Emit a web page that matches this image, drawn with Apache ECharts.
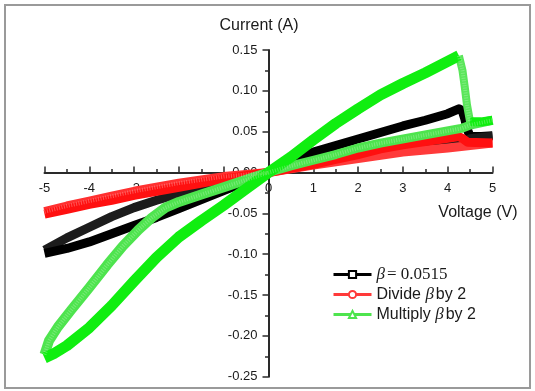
<!DOCTYPE html>
<html>
<head>
<meta charset="utf-8">
<script src="https://cdn.jsdelivr.net/npm/echarts@6/dist/echarts.min.js"></script>
<style>
  html, body { margin: 0; padding: 0; background: #fff; }
  #chart { width: 535px; height: 391px; }
</style>
</head>
<body>
<div id="chart"></div>
<script>
// I–V hysteresis loops, [voltage (V), current (A)] pairs per sweep branch.

// beta = 0.0515
const blackPosForward = [[0,0],[0.5,0.014],[1,0.025],[1.5,0.033],[2,0.041],[2.5,0.049],[3,0.057],[3.5,0.064],[4,0.072],[4.25,0.078],[4.32,0.076],[4.38,0.066],[4.43,0.054],[4.5,0.044],[4.75,0.044],[5,0.045]];
const blackPosReturn  = [[5,0.045],[4.5,0.042],[4.35,0.037],[4,0.035],[3,0.027],[2,0.019],[1,0.010],[0,0]];
const blackNegForward = [[0,0],[-0.5,-0.011],[-1,-0.022],[-1.5,-0.033],[-2,-0.044],[-2.5,-0.055],[-3,-0.065],[-3.5,-0.075],[-4,-0.085],[-4.5,-0.093],[-5,-0.099]];
const blackNegReturn  = [[-5,-0.095],[-4.5,-0.080],[-4,-0.067],[-3.5,-0.054],[-3,-0.043],[-2.5,-0.034],[-2,-0.026],[-1.5,-0.019],[-1,-0.012],[-0.5,-0.006],[0,0]];

// beta / 2
const redPosForward = [[0,0],[0.5,0.005],[1,0.010],[1.5,0.016],[2,0.022],[2.5,0.029],[3,0.034],[3.5,0.038],[4,0.042],[4.25,0.044],[4.35,0.041],[4.45,0.037],[5,0.036]];
const redPosReturn  = [[5,0.036],[4.5,0.033],[4,0.030],[3,0.025],[2.5,0.021],[2,0.017],[1,0.009],[0,0]];
const redNegForward = [[0,0],[-1,-0.008],[-2,-0.018],[-2.5,-0.023],[-3,-0.028],[-3.5,-0.034],[-4,-0.039],[-4.5,-0.045],[-5,-0.051]];
const redNegReturn  = [[-5,-0.048],[-4.5,-0.041],[-4,-0.035],[-3.5,-0.029],[-3,-0.023],[-2.5,-0.018],[-2,-0.013],[-1,-0.005],[0,0]];

// beta * 2
const greenPosForward = [[0,0],[0.5,0.019],[1,0.040],[1.5,0.060],[2,0.078],[2.5,0.095],[3,0.109],[3.5,0.122],[4,0.136],[4.25,0.143]];
const greenPosSwitch  = [[4.25,0.143],[4.33,0.125],[4.38,0.105],[4.43,0.083],[4.5,0.062]];
const greenPosHigh    = [[4.5,0.062],[4.75,0.062],[5,0.064]];
const greenPosReturn  = [[5,0.064],[4.5,0.058],[4.3,0.054],[3.5,0.046],[2.5,0.036],[2,0.030],[1.5,0.022],[1,0.015],[0.5,0.008],[0,0]];
const greenNegForward = [[0,0],[-0.5,-0.020],[-1,-0.040],[-1.5,-0.059],[-2,-0.079],[-2.5,-0.104],[-3,-0.133],[-3.5,-0.163],[-4,-0.190],[-4.5,-0.212],[-4.8,-0.222],[-5,-0.227]];
const greenNegReturn  = [[-5,-0.223],[-4.9,-0.206],[-4.7,-0.189],[-4.4,-0.168],[-4,-0.141],[-3.6,-0.113],[-3.25,-0.090],[-2.9,-0.070],[-2.6,-0.055],[-2.3,-0.043],[-2,-0.036],[-1.5,-0.027],[-1,-0.018],[-0.5,-0.009],[0,0]];

// Axis ticks
const xTicks = { min: -5, max: 5, step: 1 };
const yTicks = { min: -0.25, max: 0.15, step: 0.05 };

const NAME_B = 'β = 0.0515';
const NAME_D = 'Divide β by 2';
const NAME_M = 'Multiply β by 2';

// Plot box in pixels; the two axes cross at the origin inside it.
const PLOT = { left: 44.5, right: 492.5, top: 50, bottom: 376.7 };
const W = 535, H = 391;
const xZeroPx = PLOT.left + (0 - xTicks.min) / (xTicks.max - xTicks.min) * (PLOT.right - PLOT.left);
const yZeroPx = PLOT.top + (yTicks.max - 0) / (yTicks.max - yTicks.min) * (PLOT.bottom - PLOT.top);

// One sweep branch drawn as a thick band.
function band(name, data, color, width, symbol) {
  return {
    type: 'line',
    name: name,
    data: data,
    symbol: symbol || 'none',
    symbolSize: 7,
    showSymbol: false,
    itemStyle: { color: color },
    lineStyle: { color: color, width: width, cap: 'butt', join: 'round' },
    emphasis: { disabled: true },
    silent: true,
    z: 2
  };
}

// Sparse-sampled branches show their individual markers as a faint speckle.
function speckle(name, data, color) {
  return {
    type: 'line',
    name: name,
    data: data,
    symbol: 'none',
    showSymbol: false,
    lineStyle: { color: color, width: 4, type: [1, 1.5], cap: 'butt', opacity: 0.35 },
    emphasis: { disabled: true },
    silent: true,
    z: 3
  };
}

const FONT = 'Liberation Sans, Arial, sans-serif';
const INK = '#1a1a1a';
const AXIS = '#2a2a2a';

const chart = echarts.init(document.getElementById('chart'), null, { renderer: 'canvas' });

chart.setOption({
  animation: false,
  backgroundColor: '#ffffff',
  grid: { left: PLOT.left, right: W - PLOT.right, top: PLOT.top, bottom: H - PLOT.bottom, containLabel: false },
  xAxis: {
    type: 'value',
    position: 'bottom',
    offset: -(PLOT.bottom - yZeroPx),
    min: xTicks.min, max: xTicks.max, interval: xTicks.step,
    name: 'Voltage (V)',
    nameLocation: 'end',
    nameGap: 25,
    nameTextStyle: {
      fontFamily: FONT, fontSize: 16, color: INK,
      align: 'right', verticalAlign: 'top', padding: [32, 0, 0, 0]
    },
    axisLine: { onZero: false, lineStyle: { color: AXIS, width: 2 } },
    axisTick: { inside: true, length: 6, lineStyle: { color: AXIS, width: 1.5 } },
    minorTick: { show: true, splitNumber: 2, length: 3.5, lineStyle: { color: AXIS, width: 1.5 } },
    axisLabel: { margin: 9, fontFamily: FONT, fontSize: 13, color: INK },
    splitLine: { show: false }
  },
  yAxis: {
    type: 'value',
    position: 'left',
    offset: -(xZeroPx - PLOT.left),
    min: yTicks.min, max: yTicks.max, interval: yTicks.step,
    name: 'Current (A)',
    nameLocation: 'end',
    nameGap: 16,
    nameTextStyle: {
      fontFamily: FONT, fontSize: 16, color: INK,
      padding: [0, 19, 0, 0]
    },
    axisLine: { onZero: false, lineStyle: { color: AXIS, width: 2 } },
    axisTick: { inside: false, length: 6, lineStyle: { color: AXIS, width: 1.5 } },
    minorTick: { show: true, splitNumber: 2, length: 3.5, lineStyle: { color: AXIS, width: 1.5 } },
    axisLabel: {
      margin: 11, fontFamily: FONT, fontSize: 13, color: INK,
      formatter: v => v.toFixed(2)
    },
    splitLine: { show: false }
  },
  legend: {
    data: [NAME_B, NAME_D, NAME_M],
    orient: 'vertical',
    left: 327,
    top: 261,
    itemWidth: 38,
    itemHeight: 9,
    itemGap: 3,
    selectedMode: false,
    lineStyle: { width: 3 },
    itemStyle: { borderWidth: 1 },
    formatter: function (name) {
      if (name === NAME_B) return '{g|β}{s|= 0.0515}';
      if (name === NAME_D) return 'Divide {g|β}by 2';
      return 'Multiply {g|β}by 2';
    },
    textStyle: {
      fontFamily: FONT, fontSize: 16, color: INK, lineHeight: 16,
      rich: {
        g: { fontFamily: 'Liberation Serif, Times New Roman, serif', fontStyle: 'italic', fontSize: 17, padding: [0, 2, 0, 0] },
        s: { fontFamily: 'Liberation Serif, Times New Roman, serif', fontSize: 17 }
      }
    }
  },
  graphic: [{
    type: 'rect',
    shape: { x: 5, y: 5, width: 525, height: 383 },
    style: { fill: 'none', stroke: '#9a9a9a', lineWidth: 2 },
    silent: true,
    z: -1
  }],
  series: [
    band(NAME_B, blackPosForward, '#000000', 9, 'emptyRect'),
    band(NAME_B, blackPosReturn, '#1c1c1c', 8),
    band(NAME_B, blackNegReturn, '#1c1c1c', 9),
    band(NAME_B, blackNegForward, '#000000', 9),

    band(NAME_D, redPosReturn, '#ff3a3a', 9, 'emptyCircle'),
    band(NAME_D, redPosForward, '#ff1010', 9),
    band(NAME_D, redNegReturn, '#ff3030', 9),
    speckle(NAME_D, redNegReturn, '#ffd0d0'),
    band(NAME_D, redNegForward, '#ff1010', 9),

    band(NAME_M, greenPosReturn, '#4ee44e', 9, 'emptyTriangle'),
    speckle(NAME_M, greenPosReturn, '#c8f8c8'),
    band(NAME_M, greenNegReturn, '#4ee44e', 10),
    speckle(NAME_M, greenNegReturn, '#c8f8c8'),
    band(NAME_M, greenPosSwitch, '#5ae65a', 8),
    speckle(NAME_M, greenPosSwitch, '#c8f8c8'),
    band(NAME_M, greenPosHigh, '#10ee10', 9),
    band(NAME_M, greenPosForward, '#10ee10', 11),
    band(NAME_M, greenNegForward, '#10ee10', 11)
  ]
});
</script>
</body>
</html>
